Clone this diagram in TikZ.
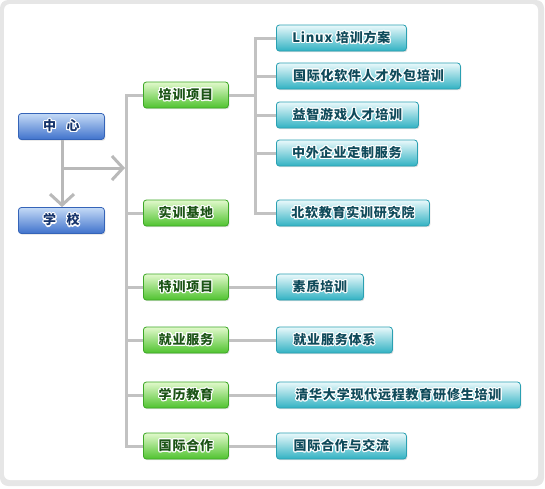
\documentclass[tikz,border=0pt]{standalone}
\usepackage{fontspec}
\usepackage[copies]{contour}
\usetikzlibrary{arrows.meta,shadows}
\newfontfamily\cjkfont{Noto Sans CJK SC}[LetterSpace=6]
\contourlength{1.1pt}
\newcommand{\glow}[1]{\contour{white}{#1}}
\definecolor{framegray}{HTML}{E6E6E6}
\definecolor{linkgray}{HTML}{C2C2C2}
\definecolor{arrowgray}{HTML}{A8A8A8}
\definecolor{bluetop}{HTML}{C4DAF6}
\definecolor{bluebot}{HTML}{3F72CC}
\definecolor{blueline}{HTML}{3564B8}
\definecolor{bluetext}{HTML}{15336B}
\definecolor{greentop}{HTML}{E2F9CC}
\definecolor{greenbot}{HTML}{4FC32F}
\definecolor{greenline}{HTML}{3DA826}
\definecolor{greentext}{HTML}{1C5416}
\definecolor{cyantop}{HTML}{EAF9FB}
\definecolor{cyanbot}{HTML}{31B2C3}
\definecolor{cyanline}{HTML}{2AA0B2}
\definecolor{cyantext}{HTML}{0F4A5A}
\tikzset{
  box/.style={rounded corners=3pt, minimum height=26pt, inner sep=0pt,
    line width=0.8pt, anchor=west,
    font=\cjkfont\bfseries\fontsize{13}{13}\selectfont,
    drop shadow={shadow xshift=1pt,shadow yshift=-1.2pt,opacity=0.25}},
  centerbox/.style={box, draw=blueline, top color=bluetop, bottom color=bluebot,
    text=bluetext, minimum width=86pt},
  itembox/.style={box, draw=greenline, top color=greentop, bottom color=greenbot,
    text=greentext, minimum width=85pt},
  subbox/.style={box, draw=cyanline, top color=cyantop, bottom color=cyanbot,
    text=cyantext},
  link/.style={draw=linkgray, line width=3pt},
  pointer/.style={draw=arrowgray!80, line width=3pt,
    -{Straight Barb[length=11pt,width=24pt,line width=3pt]}}
}
\begin{document}
\begin{tikzpicture}[x=1pt,y=-1pt]
  \useasboundingbox (0,0) rectangle (545,488);
  % frame
  \fill[framegray, rounded corners=8pt] (0,0) rectangle (544,486);
  \fill[white, rounded corners=6pt] (4,4) rectangle (538,480);

  % left side
  \node[centerbox] (center) at (18,126.5) {\glow{中\hspace{0.8em}心}};
  \node[centerbox] (school) at (18,220.5) {\glow{学\hspace{0.8em}校}};

  % second level
  \node[itembox] (train)   at (143,95)  {\glow{培训项目}};
  \node[itembox] (base)    at (143,213) {\glow{实训基地}};
  \node[itembox] (special) at (143,287) {\glow{特训项目}};
  \node[itembox] (job)     at (143,340) {\glow{就业服务}};
  \node[itembox] (degree)  at (143,395) {\glow{学历教育}};
  \node[itembox] (intl)    at (143,446) {\glow{国际合作}};

  % third level
  \node[subbox, minimum width=130pt] (linux)   at (276,38)  {\glow{Linux 培训方案}};
  \node[subbox, minimum width=184pt] (outsrc)  at (276,76)  {\glow{国际化软件人才外包培训}};
  \node[subbox, minimum width=142pt] (game)    at (276,115) {\glow{益智游戏人才培训}};
  \node[subbox, minimum width=141pt] (custom)  at (276,153) {\glow{中外企业定制服务}};
  \node[subbox, minimum width=153pt] (bsoft)   at (276,213) {\glow{北软教育实训研究院}};
  \node[subbox, minimum width=87pt]  (quality) at (276,287) {\glow{素质培训}};
  \node[subbox, minimum width=116pt] (jobsys)  at (276,340) {\glow{就业服务体系}};
  \node[subbox, minimum width=244pt] (tsinghua) at (276,395) {\glow{清华大学现代远程教育研修生培训}};
  \node[subbox, minimum width=130pt] (exchange) at (276,446) {\glow{国际合作与交流}};

  \coordinate (trunk) at (126,95);
  \coordinate (fork) at (255,95);
  \coordinate (split) at (62,168);
  \coordinate (hit) at (125,168);

  % arrows
  \draw[pointer] (center.south -| split) -- (school.north -| split);
  \draw[pointer] (split) -- (hit);

  % connectors
  \begin{scope}[link]
    \draw (train.west) -- (trunk) |- (intl.west);
    \draw (base.west) -- (base.west -| trunk);
    \draw (special.west) -- (special.west -| trunk);
    \draw (job.west) -- (job.west -| trunk);
    \draw (degree.west) -- (degree.west -| trunk);
    \draw (train.east) -- (fork);
    \draw (linux.west) -| (fork) |- (bsoft.west);
    \draw (outsrc.west) -- (outsrc.west -| fork);
    \draw (game.west) -- (game.west -| fork);
    \draw (custom.west) -- (custom.west -| fork);
    \draw (special.east) -- (quality.west);
    \draw (job.east) -- (jobsys.west);
    \draw (degree.east) -- (tsinghua.west);
    \draw (intl.east) -- (exchange.west);
  \end{scope}
\end{tikzpicture}
\end{document}
